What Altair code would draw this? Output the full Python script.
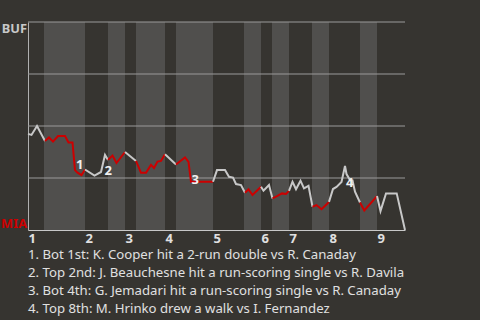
import altair as alt
import pandas as pd

# ---- data ----
innings = ['1', '2', '3', '4', '5', '6', '7', '8', '9']
top_starts = [0, 57, 97, 137, 185, 233, 261, 301, 349]   # start of each top half (play scale)
bot_starts = [16, 80, 108, 148, 216, 244, 284, 332]       # start of each bottom half
game_end = 377

play_t = [0, 3.5, 9, 17, 21, 25, 30, 37, 40.5, 44.5, 47, 49.5, 53.5,
          57, 66.5, 73, 77, 80, 84.5, 88.5, 97,
          108, 113, 118, 123, 126, 129.5, 133, 137,
          148, 157, 160.5, 163, 185,
          189, 197, 201, 205, 208, 213, 217, 220.5, 224.5, 233,
          235.5, 241, 244.5, 249, 254, 258, 261,
          264.5, 268, 272.5, 276, 280.5, 284.5, 288.5, 293.5, 301,
          305, 308.5, 313.5, 317, 318.5, 322, 324.5, 327, 332, 336.3, 349,
          352.5, 358, 368.7, 377]
buf_wp = [46.2, 45.7, 50.0, 42.8, 44.5, 42.5, 45.2, 45.2, 42.1, 42.1, 28.8, 27.6, 26.4,
          29.1, 26.2, 27.9, 36.1, 33.7, 35.8, 32.2, 37.5,
          33.2, 27.5, 27.5, 31.3, 29.8, 32.9, 33.2, 36.4,
          31.5, 34.9, 32.7, 23.2, 23.2,
          28.8, 28.8, 25.6, 25.2, 22.1, 21.6, 17.9, 19.6, 16.8, 20.8,
          18.9, 21.6, 15.2, 16.3, 17.6, 17.3, 18.8,
          23.2, 19.6, 23.7, 20.0, 21.2, 11.2, 12.0, 10.0, 13.5,
          19.7, 20.7, 23.1, 30.8, 26.9, 24.0, 23.8, 18.4, 13.2, 9.4, 16.3,
          9.1, 17.6, 17.6, 0.0]

grid_values = [25, 50, 75, 100]

marker_labels = ['1', '2', '3', '4']
marker_t = [51.7, 80.3, 167.3, 321.7]
marker_wp = [31.4, 28.4, 23.8, 22.8]

notes = [
    "1. Bot 1st: K. Cooper hit a 2-run double vs R. Canaday",
    "2. Top 2nd: J. Beauchesne hit a run-scoring single vs R. Davila",
    "3. Bot 4th: G. Jemadari hit a run-scoring single vs R. Canaday",
    "4. Top 8th: M. Hrinko drew a walk vs I. Fernandez",
]

# ---- build tables ----
halves = sorted([(s, 'top') for s in top_starts] + [(s, 'bot') for s in bot_starts])
half_starts = [h[0] for h in halves]


def half_of(t):
    idx = 0
    for i, s in enumerate(half_starts):
        if t >= s:
            idx = i
    return idx


rows = []
prev_half = None
for t, wp in zip(play_t, buf_wp):
    h = half_of(t)
    if prev_half is not None and h != prev_half:
        rows.append({'t': t, 'wp': wp, 'seg': prev_half, 'side': halves[prev_half][1]})
    rows.append({'t': t, 'wp': wp, 'seg': h, 'side': halves[h][1]})
    prev_half = h
line_df = pd.DataFrame(rows)

band_df = pd.DataFrame({'start': bot_starts, 'end': top_starts[1:]})
grid_df = pd.DataFrame({'v': grid_values})
marker_df = pd.DataFrame({'label': marker_labels, 't': marker_t, 'wp': marker_wp})

FONT = 'Noto Sans'
BG = '#363430'

xscale = alt.Scale(domain=[0, game_end], nice=False, zero=False)
yscale = alt.Scale(domain=[0, 100], nice=False)

label_map = "[" + ",".join("'" + s + "'" for s in innings) + "][indexof([" + \
    ",".join(str(v) for v in top_starts) + "], datum.value)]"

xaxis = alt.Axis(values=top_starts, labelExpr=label_map, title=None, grid=False,
                 ticks=False, domainColor='#c8c8c8', labelColor='#e0e0e0',
                 labelFont=FONT, labelFontSize=13, labelFontWeight='bold',
                 labelAlign='left', labelFlush=False, labelPadding=2)
yaxis = alt.Axis(values=[0, 100], labelExpr="datum.value == 100 ? 'BUF' : 'MIA'",
                 title=None, grid=False, ticks=False, domainColor='#b0b0b0',
                 labelColor=alt.expr("datum.value == 100 ? '#c8c8c8' : '#cc0000'"),
                 labelFont=FONT, labelFontSize=12.8, labelFontWeight='bold',
                 labelFlush=True, labelPadding=1.5)

bands = alt.Chart(band_df).mark_rect(color='#504f4d').encode(
    x=alt.X('start:Q', scale=xscale, axis=xaxis),
    x2='end:Q',
)

grid = alt.Chart(grid_df).mark_rule(color='#9a9a9a', strokeWidth=1).encode(
    y=alt.Y('v:Q', scale=yscale, axis=yaxis),
)

line = alt.Chart(line_df).mark_line(strokeWidth=2).encode(
    x=alt.X('t:Q', scale=xscale, axis=xaxis),
    y=alt.Y('wp:Q', scale=yscale, axis=yaxis),
    color=alt.Color('side:N', scale=alt.Scale(domain=['top', 'bot'],
                                              range=['#c8c8c8', '#cc0000']), legend=None),
    detail='seg:N',
    order='t:Q',
)

markers = alt.Chart(marker_df).mark_text(
    font=FONT, fontSize=13, fontWeight='bold', color='#f0f0f0',
    align='center', baseline='middle'
).encode(
    x=alt.X('t:Q', scale=xscale, axis=xaxis),
    y=alt.Y('wp:Q', scale=yscale, axis=yaxis),
    text='label:N',
)

chart = alt.layer(bands, grid, line, markers).properties(
    width=377, height=208,
    title=alt.TitleParams(text=notes, orient='bottom', anchor='start', frame='group',
                          font=FONT, fontSize=13.2, fontWeight='normal', color='#e0e0e0',
                          lineHeight=18, offset=4),
    padding={'left': 28, 'top': 22, 'right': 75, 'bottom': 90},
    autosize=alt.AutoSizeParams(type='none'),
).configure(background=BG).configure_view(stroke=None)

chart.save("out.html", embed_options={"renderer": "svg", "actions": False})
